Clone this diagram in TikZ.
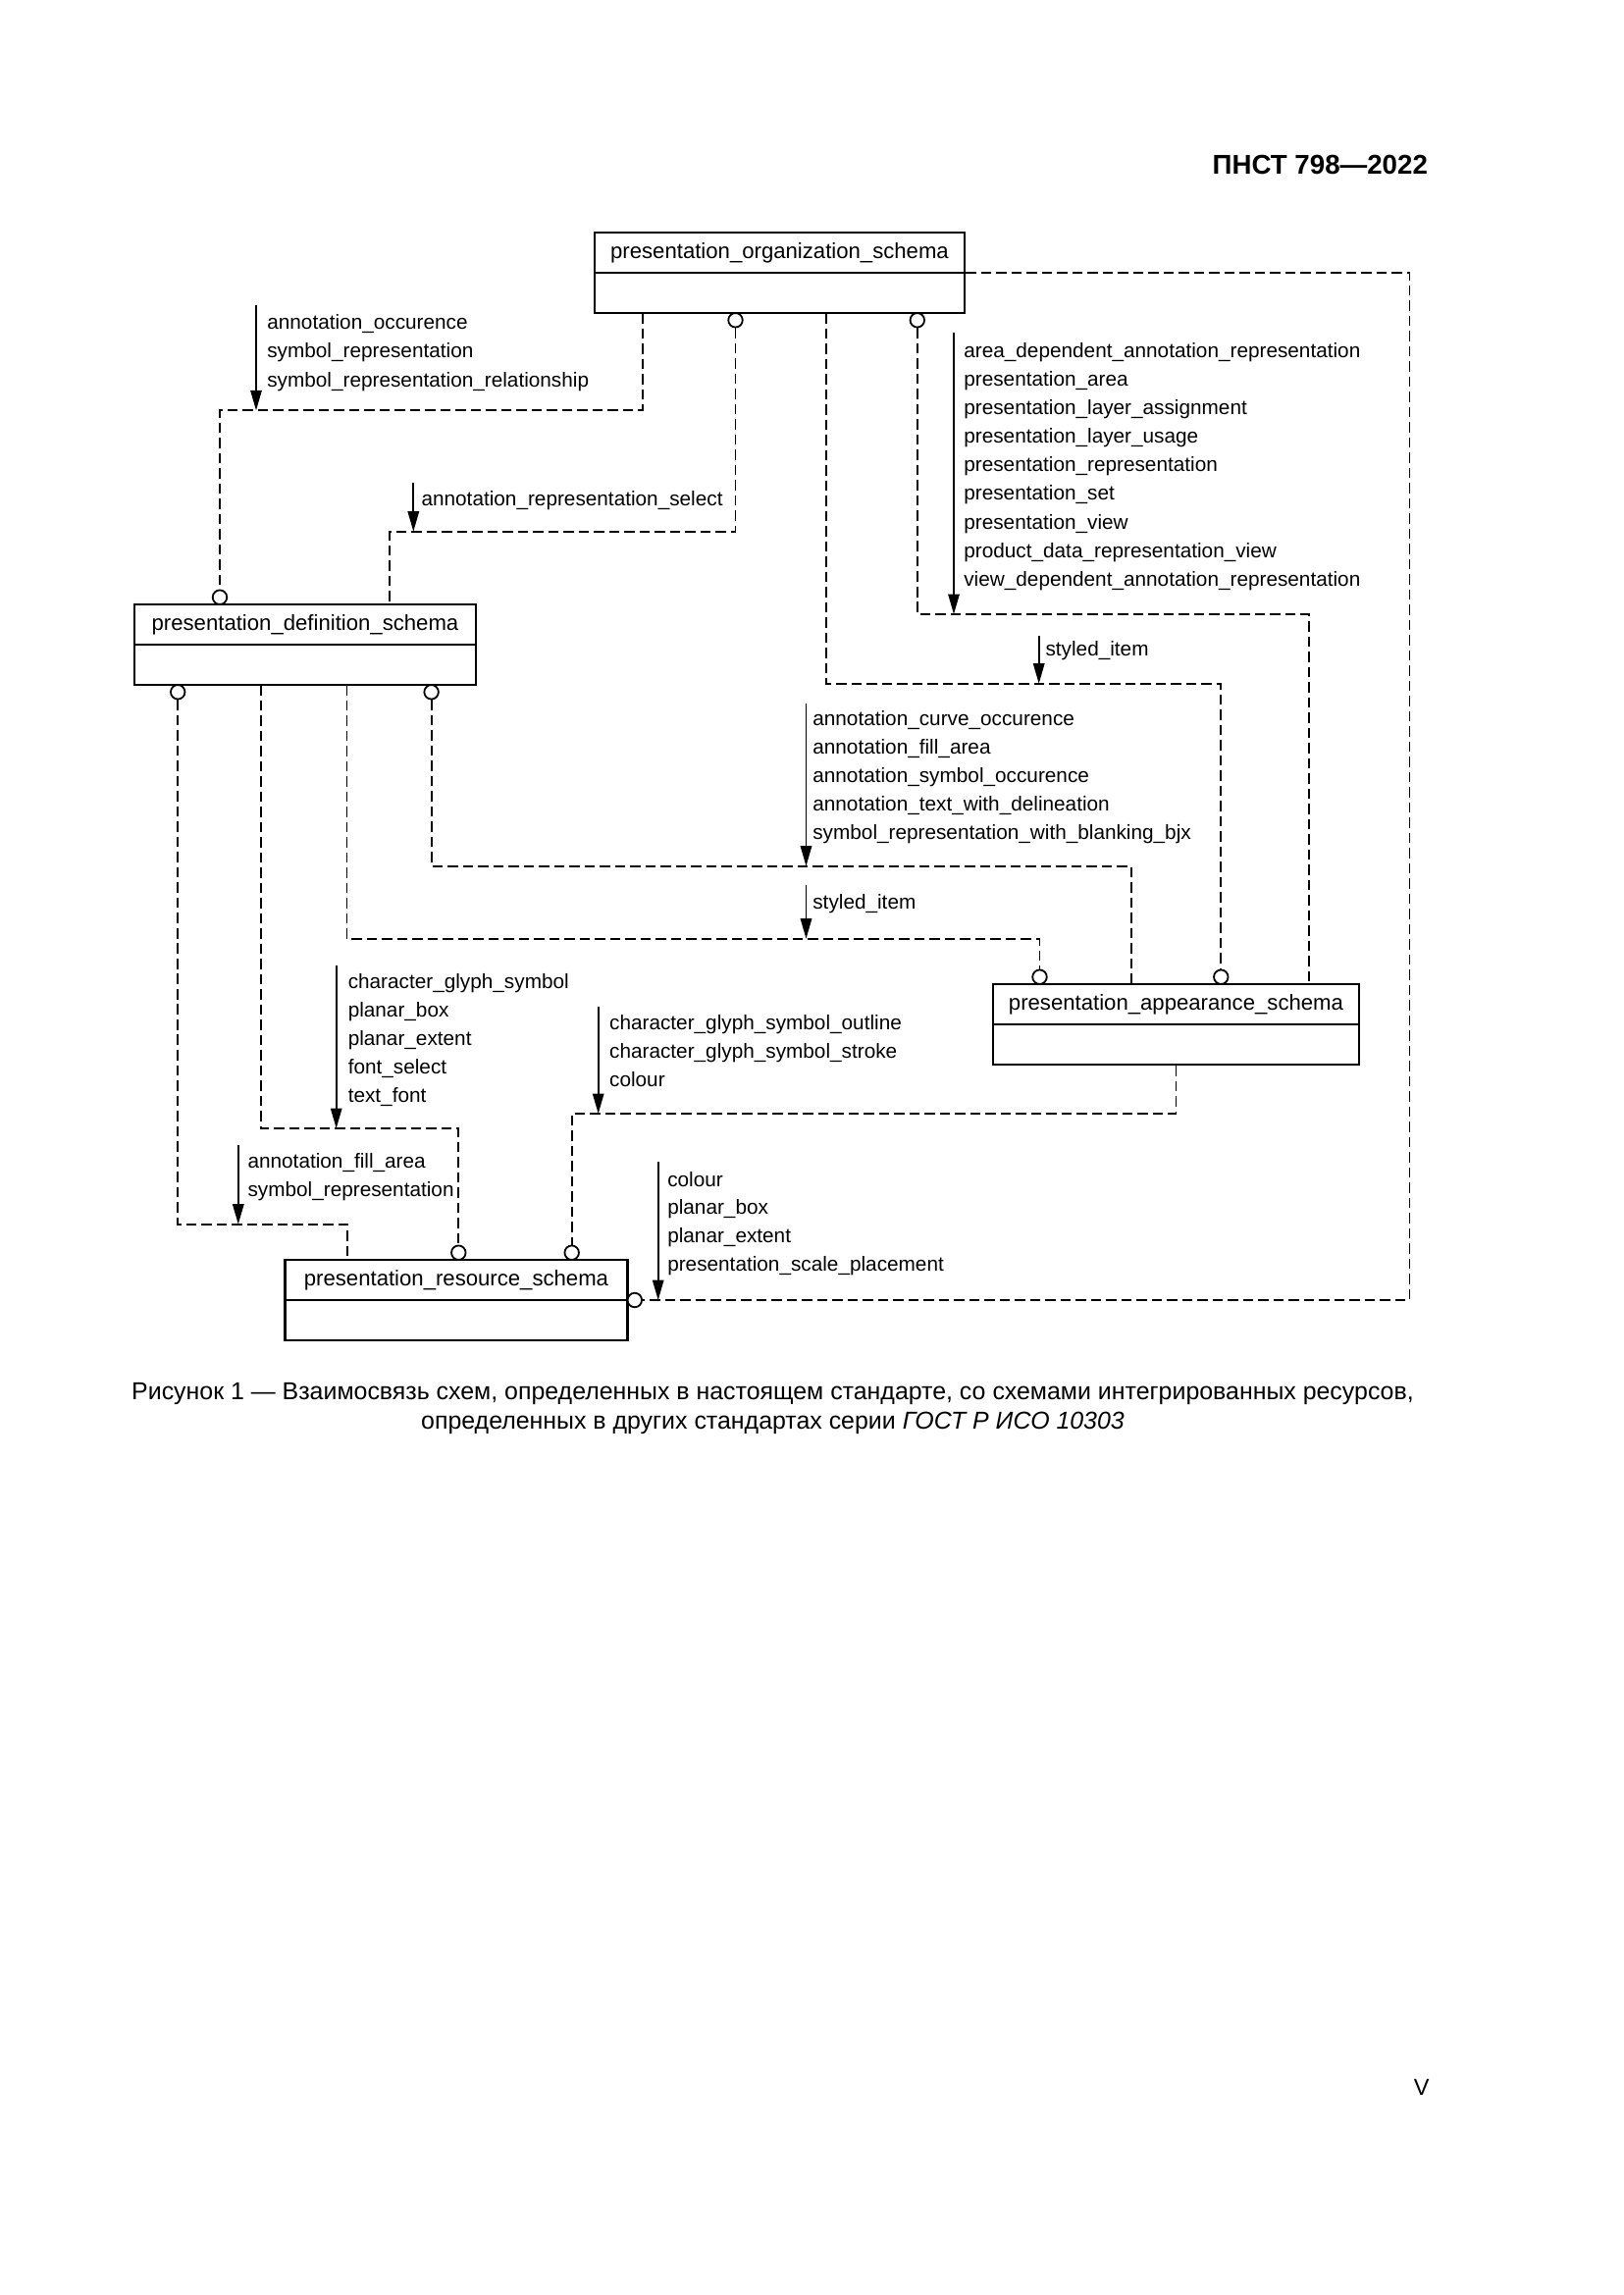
\documentclass[tikz,border=0pt]{standalone}
\usepackage{fontspec}
\setmainfont{Liberation Sans}
\usetikzlibrary{arrows.meta,calc}
\def\u{0.12697mm}
\newcommand\lblblock[5]{%
  \foreach \txt [count=\i] in {#5} {\node[lbl] (#1-\i) at (#2,{#3+(\i-1)*#4}) {\txt};}%
}
\begin{document}
\begin{tikzpicture}[x=0.12697mm, y=-0.12697mm,
  sbox/.style={draw, line width=0.85pt, minimum height=82*\u, inner sep=0pt},
  boxline/.style={line width=0.85pt},
  ttl/.style={anchor=base, inner sep=0pt, font=\fontsize{8pt}{10pt}\selectfont},
  lbl/.style={anchor=mid west, inner sep=0pt, font=\fontsize{7.5pt}{10pt}\selectfont},
  circ/.style={circle, draw, line width=0.65pt, fill=white, minimum size=14.5*\u, inner sep=0pt},
  dep/.style={line width=0.7pt, dash pattern=on 3.8pt off 1.8pt},
  arr/.style={line width=0.6pt, -{Triangle[length=2.6mm,width=1.45mm]}},
]
\useasboundingbox (0,0) rectangle (1654,2339);

% header and page number
\node[anchor=base east, inner sep=0pt, font=\fontsize{10pt}{12pt}\selectfont\bfseries] (hdr) at (1455.5,177.3) {ПНСТ 798—2022};
\node[anchor=base east, inner sep=0pt, font=\fontsize{8.5pt}{10pt}\selectfont] (pg) at (1457,2135) {V};

% boxes
\node[sbox, minimum width=377*\u] (org) at (794.5,278) {};
\node[sbox, minimum width=348*\u] (def) at (311,657) {};
\node[sbox, minimum width=373*\u] (app) at (1198.5,1044) {};
\node[sbox, minimum width=349*\u] (res) at (465,1325) {};
\draw[boxline] (org.west) -- (org.east);
\draw[boxline] (def.west) -- (def.east);
\draw[boxline] (app.west) -- (app.east);
\draw[boxline] (res.west) -- (res.east);
\node[ttl] (orgT) at (794.5,263.5) {presentation\_organization\_schema};
\node[ttl] (defT) at (311,642.5) {presentation\_definition\_schema};
\node[ttl] (appT) at (1198.5,1029.5) {presentation\_appearance\_schema};
\node[ttl] (resT) at (465,1310.5) {presentation\_resource\_schema};

% attach points on boxes
\coordinate (a1) at (654.6,319);
\coordinate (a3) at (842.3,319);
\coordinate (a2) at (397.2,616);
\coordinate (a7) at (353.5,698);
\coordinate (a9) at (266.3,698);
\coordinate (a4) at (1333.7,1003);
\coordinate (a6) at (1152.8,1003);
\coordinate (a8) at (353.6,1284);

% circles
\node[circ] (co2) at (749.5,326.3) {};
\node[circ] (co4) at (934.8,326.3) {};
\node[circ] (cd1) at (224,608.7) {};
\node[circ] (cd3) at (181.2,705.3) {};
\node[circ] (cd6) at (439.6,705.3) {};
\node[circ] (ca3) at (1244.3,995.7) {};
\node[circ] (ca7) at (1059.5,995.7) {};
\node[circ] (cr9) at (467.3,1276.7) {};
\node[circ] (cr10) at (582.7,1276.7) {};
\node[circ] (cr5) at (646.8,1325) {};

% dashed connectors
\draw[dep] (a1) -- (654.6,418.3) -| (cd1.north);
\draw[dep] (co2.south) |- (397.2,541.7) -- (a2);
\draw[dep] (a3) |- (1244.3,696.7) -- (ca3.north);
\draw[dep] (co4.south) |- (1333.7,626) -- (a4);
\draw[dep] (org.east) -| (1436.5,1325) -- (cr5.east);
\draw[dep] (cd6.south) |- (1152.8,882.7) -- (a6);
\draw[dep] (a7) |- (1059.5,956.7) -- (ca7.north);
\draw[dep] (cd3.south) |- (353.6,1247.7) -- (a8);
\draw[dep] (a9) |- (467.3,1150) -- (cr9.north);
\draw[dep] (app.south) |- (582.7,1135) -- (cr10.north);

% arrows
\coordinate (s1) at (261,311);      \coordinate (t1) at (261,418.3);
\coordinate (s2) at (421.3,492.3);  \coordinate (t2) at (421.3,541.7);
\coordinate (s3) at (1058.7,648.3); \coordinate (t3) at (1058.7,696.7);
\coordinate (s4) at (972,339.3);    \coordinate (t4) at (972,626);
\coordinate (s5) at (670.7,1184.3); \coordinate (t5) at (670.7,1325);
\coordinate (s6) at (821.5,716.7);  \coordinate (t6) at (821.5,882.7);
\coordinate (s7) at (821.5,901.7);  \coordinate (t7) at (821.5,956.7);
\coordinate (s8) at (242.8,1167.3); \coordinate (t8) at (242.8,1247.7);
\coordinate (s9) at (342.7,984);    \coordinate (t9) at (342.7,1150);
\coordinate (s10) at (609.7,1026);  \coordinate (t10) at (609.7,1135);
\foreach \k in {1,...,10} {\draw[arr] (s\k) -- (t\k);}

% labels
\lblblock{L1}{271.8}{327.7}{29.5}{annotation\_occurence,symbol\_representation,symbol\_representation\_relationship}
\lblblock{L2}{429}{507.7}{29.2}{annotation\_representation\_select}
\lblblock{L3}{1065}{660.7}{29.2}{styled\_item}
\lblblock{L4}{981.8}{356.7}{29.17}{area\_dependent\_annotation\_representation,presentation\_area,presentation\_layer\_assignment,presentation\_layer\_usage,presentation\_representation,presentation\_set,presentation\_view,product\_data\_representation\_view,view\_dependent\_annotation\_representation}
\lblblock{L5}{679.7}{1201.7}{28.9}{colour,planar\_box,planar\_extent,presentation\_scale\_placement}
\lblblock{L6}{827.8}{732.3}{29.0}{annotation\_curve\_occurence,annotation\_fill\_area,annotation\_symbol\_occurence,annotation\_text\_with\_delineation,symbol\_representation\_with\_blanking\_bjx}
\lblblock{L7}{827.8}{919.3}{29.2}{styled\_item}
\lblblock{L8}{252}{1182.7}{29.0}{annotation\_fill\_area,symbol\_representation}
\lblblock{L9}{354.2}{1000}{29.0}{character\_glyph\_symbol,planar\_box,planar\_extent,font\_select,text\_font}
\lblblock{L10}{620.6}{1041.7}{29.2}{character\_glyph\_symbol\_outline,character\_glyph\_symbol\_stroke,colour}

% caption
\node[anchor=base, inner sep=0pt, font=\fontsize{9pt}{11pt}\selectfont] (cap1) at (787.5,1426) {Рисунок 1 — Взаимосвязь схем, определенных в настоящем стандарте, со схемами интегрированных ресурсов,};
\node[anchor=base, inner sep=0pt, font=\fontsize{9pt}{11pt}\selectfont] (cap2) at (787.5,1456) {определенных в других стандартах серии \textit{ГОСТ Р ИСО 10303}};
\end{tikzpicture}
\end{document}
